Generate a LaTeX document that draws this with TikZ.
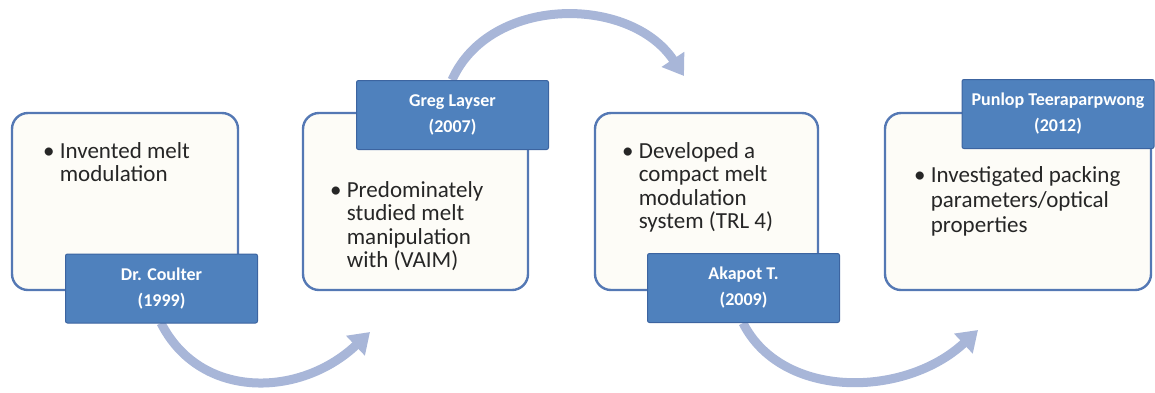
\documentclass[tikz,border=0pt]{standalone}
\usepackage{fontspec}
\setmainfont{Carlito}
\usetikzlibrary{arrows.meta}
\definecolor{boxfill}{RGB}{253,252,247}
\definecolor{boxline}{RGB}{84,120,180}
\definecolor{labfill}{RGB}{79,129,189}
\definecolor{labline}{RGB}{60,100,160}
\definecolor{flowcol}{RGB}{168,182,216}
\newcommand{\bitem}[1]{\textbullet\ \begin{tabular}[t]{@{}l@{}}#1\end{tabular}}
\tikzset{
	card/.style={draw=boxline,line width=2.4pt,fill=boxfill,rounded corners=16pt,inner sep=0pt},
	lab/.style={draw=labline,line width=1pt,fill=labfill,rounded corners=2pt,
		text=white,font=\fontsize{18}{26}\selectfont\bfseries,align=center,
		minimum width=192pt,minimum height=69pt,inner sep=0pt},
	txt/.style={anchor=base west,inner sep=0pt,font=\fontsize{23}{23.5}\selectfont,
		text=black!85},
	flow/.style={draw=flowcol,line width=9pt,
		-{Triangle[width=26pt,length=20pt]}}
}
\begin{document}
\begin{tikzpicture}[x=1pt,y=-1pt]
	\useasboundingbox (0,0) rectangle (1155,392);
	\path
		(161,323) coordinate (s1) (370,332) coordinate (e1)
		(452,80) coordinate (s2) (684,76) coordinate (e2)
		(743,323) coordinate (s3) (978,330) coordinate (e3)
		;

	% curved flow arrows
	\draw[flow] (s1) .. controls (200,400) and (300,398) .. (e1);
	\draw[flow] (s2) .. controls (490,-5) and (630,-5) .. (e2);
	\draw[flow] (s3) .. controls (782,400) and (905,398) .. (e3);

	% cards
	\node[card,minimum width=226pt,minimum height=177pt] (box1) at (125,201.5) {};
	\node[card,minimum width=225pt,minimum height=177pt] (box2) at (415.5,201.5) {};
	\node[card,minimum width=223pt,minimum height=177pt] (box3) at (706.5,201.5) {};
	\node[card,minimum width=266pt,minimum height=177pt] (box4) at (1018,201.5) {};

	\node[txt] (t1) at (43,158) {\bitem{Invented melt\\modulation}};
	\node[txt] (t2) at (330,197) {\bitem{Predominately\\studied melt\\manipulation\\with (VAIM)}};
	\node[txt] (t3) at (622,158) {\bitem{Developed a\\compact melt\\modulation\\system (TRL 4)}};
	\node[txt,font=\fontsize{23}{25}\selectfont] (t4) at (914,182) {\bitem{Investigated packing\\parameters/optical\\properties}};

	% name labels
	\node[lab] (lab1) at (161.5,288.5) {Dr. Coulter\\(1999)};
	\node[lab] (lab2) at (452.5,115) {Greg Layser\\(2007)};
	\node[lab] (lab3) at (743.5,288) {Akapot T.\\(2009)};
	\node[lab] (lab4) at (1058,114) {Punlop Teeraparpwong\\(2012)};
\end{tikzpicture}
\end{document}
